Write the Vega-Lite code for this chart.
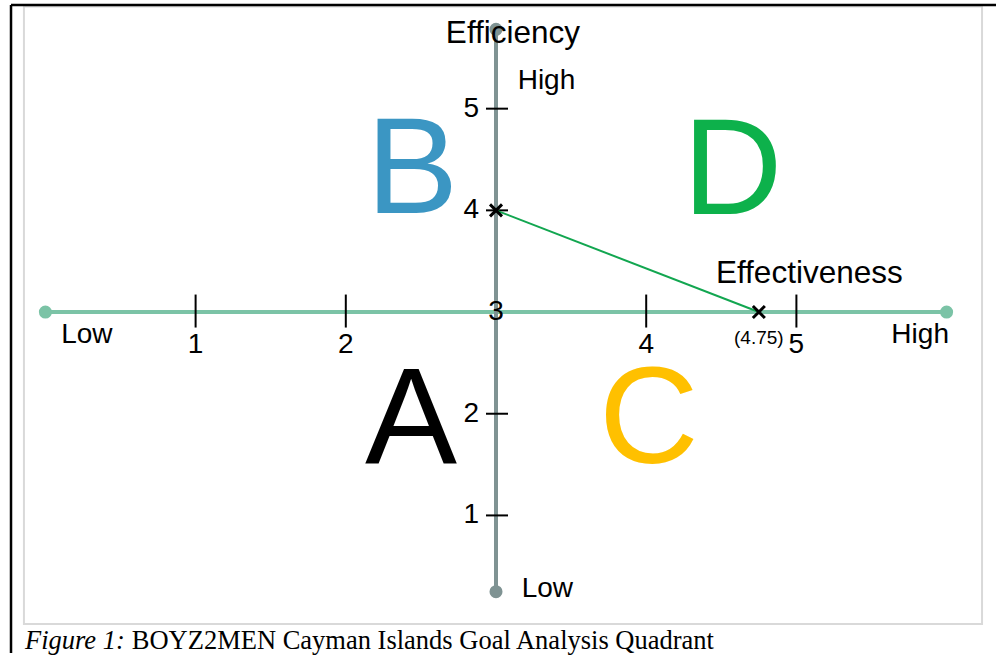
{
  "$schema": "https://vega.github.io/schema/vega-lite/v6.json",
  "width": 998,
  "height": 655,
  "autosize": {"type": "fit", "contains": "padding"},
  "padding": 0,
  "background": "white",
  "config": {"view": {"stroke": null}, "text": {"font": "Liberation Sans"}},
  "datasets": {
    "frameBox": [{"x": -0.1429, "x2": 6.236, "y": -0.0686, "y2": 6.005}],
    "frameLines": [
      {"x": -0.229, "x2": -0.229, "y": -0.3529, "y2": 6.0196},
      {"x": -0.229, "x2": 6.3289, "y": 6.0196, "y2": 6.0196}
    ],
    "axes": [
      {"axis": "Effectiveness", "x": 0, "x2": 6, "y": 3, "y2": 3},
      {"axis": "Efficiency", "x": 3, "x2": 3, "y": 0.25, "y2": 5.78}
    ],
    "axisEnds": [
      {"axis": "Effectiveness", "x": 0, "y": 3},
      {"axis": "Effectiveness", "x": 6, "y": 3},
      {"axis": "Efficiency", "x": 3, "y": 0.25},
      {"axis": "Efficiency", "x": 3, "y": 5.78}
    ],
    "xticks": [{"x": 1, "y": 3}, {"x": 2, "y": 3}, {"x": 4, "y": 3}, {"x": 5, "y": 3}],
    "yticks": [{"x": 3, "y": 1}, {"x": 3, "y": 2}, {"x": 3, "y": 4}, {"x": 3, "y": 5}],
    "center": [{"x": 3, "y": 3, "text": "3"}],
    "results": [{"x": 3, "y": 4}, {"x": 4.75, "y": 3}],
    "valueLabel": [{"x": 4.75, "y": 2.745, "text": "(4.75)"}],
    "endLabels": [
      {"x": 0.276, "y": 2.775, "text": "Low"},
      {"x": 5.824, "y": 2.775, "text": "High"},
      {"x": 3.336, "y": 5.275, "text": "High"},
      {"x": 3.342, "y": 0.275, "text": "Low"}
    ],
    "titles": [
      {"x": 3.113, "y": 5.73, "text": "Efficiency"},
      {"x": 5.086, "y": 3.373, "text": "Effectiveness"}
    ],
    "quadrants": [
      {"quadrant": "A", "x": 2.435, "y": 1.51},
      {"quadrant": "B", "x": 2.442, "y": 3.971},
      {"quadrant": "C", "x": 4.017, "y": 1.52},
      {"quadrant": "D", "x": 4.575, "y": 3.961}
    ],
    "captionLead": [{"x": -0.1362, "y": -0.3137, "text": "Figure 1:"}],
    "captionBody": [{"x": 0.575, "y": -0.3137, "text": "BOYZ2MEN Cayman Islands Goal Analysis Quadrant"}]
  },
  "encoding": {
    "x": {"field": "x", "type": "quantitative", "scale": {"domain": [-0.3023, 6.3289], "nice": false, "zero": false}, "axis": null},
    "y": {"field": "y", "type": "quantitative", "scale": {"domain": [-0.3529, 6.0686], "nice": false, "zero": false}, "axis": null}
  },
  "layer": [
    {
      "data": {"name": "frameBox"},
      "mark": {"type": "rect", "filled": false, "fill": null, "stroke": "#D9D9D9", "strokeWidth": 2},
      "encoding": {"x2": {"field": "x2"}, "y2": {"field": "y2"}}
    },
    {
      "data": {"name": "frameLines"},
      "mark": {"type": "rule", "color": "#000000", "strokeWidth": 2.5},
      "encoding": {"x2": {"field": "x2"}, "y2": {"field": "y2"}}
    },
    {
      "data": {"name": "quadrants"},
      "mark": {"type": "text", "fontSize": 138, "align": "center", "baseline": "alphabetic"},
      "encoding": {
        "text": {"field": "quadrant"},
        "color": {"field": "quadrant", "type": "nominal", "scale": {"domain": ["A", "B", "C", "D"], "range": ["#000000", "#3B96C3", "#FFC000", "#0DB14B"]}, "legend": null}
      }
    },
    {
      "data": {"name": "axes"},
      "mark": {"type": "rule", "strokeWidth": 4},
      "encoding": {
        "x2": {"field": "x2"},
        "y2": {"field": "y2"},
        "color": {"field": "axis", "type": "nominal", "scale": {"domain": ["Effectiveness", "Efficiency"], "range": ["#7BC3A6", "#7F9393"]}, "legend": null}
      }
    },
    {
      "data": {"name": "axisEnds"},
      "mark": {"type": "point", "shape": "circle", "filled": true, "size": 170, "opacity": 1},
      "encoding": {
        "color": {"field": "axis", "type": "nominal", "scale": {"domain": ["Effectiveness", "Efficiency"], "range": ["#7BC3A6", "#7F9393"]}, "legend": null}
      }
    },
    {
      "data": {"name": "xticks"},
      "mark": {"type": "tick", "orient": "vertical", "color": "#000000", "size": 33, "thickness": 2, "opacity": 1, "yOffset": -1},
      "encoding": {}
    },
    {
      "data": {"name": "xticks"},
      "mark": {"type": "text", "fontSize": 28, "align": "center", "baseline": "middle", "dy": 33},
      "encoding": {"text": {"field": "x", "type": "quantitative"}}
    },
    {
      "data": {"name": "yticks"},
      "mark": {"type": "tick", "orient": "horizontal", "color": "#000000", "size": 22, "thickness": 2, "opacity": 1, "xOffset": 1},
      "encoding": {}
    },
    {
      "data": {"name": "yticks"},
      "mark": {"type": "text", "fontSize": 28, "align": "right", "baseline": "middle", "dx": -17},
      "encoding": {"text": {"field": "y", "type": "quantitative"}}
    },
    {
      "data": {"name": "center"},
      "mark": {"type": "text", "fontSize": 28, "align": "center", "baseline": "middle"},
      "encoding": {"text": {"field": "text"}}
    },
    {
      "data": {"name": "results"},
      "mark": {"type": "line", "color": "#12A650", "strokeWidth": 2},
      "encoding": {}
    },
    {
      "data": {"name": "results"},
      "mark": {"type": "point", "shape": "M-1,-1L1,1M-1,1L1,-1", "filled": false, "stroke": "#000000", "strokeWidth": 3, "size": 144, "opacity": 1},
      "encoding": {}
    },
    {
      "data": {"name": "valueLabel"},
      "mark": {"type": "text", "fontSize": 19, "align": "center", "baseline": "middle"},
      "encoding": {"text": {"field": "text"}}
    },
    {
      "data": {"name": "endLabels"},
      "mark": {"type": "text", "fontSize": 28, "align": "center", "baseline": "middle"},
      "encoding": {"text": {"field": "text"}}
    },
    {
      "data": {"name": "titles"},
      "mark": {"type": "text", "fontSize": 31.5, "align": "center", "baseline": "middle"},
      "encoding": {"text": {"field": "text"}}
    },
    {
      "data": {"name": "captionLead"},
      "mark": {"type": "text", "font": "Liberation Serif", "fontStyle": "italic", "fontSize": 26.5, "align": "left", "baseline": "alphabetic"},
      "encoding": {"text": {"field": "text"}}
    },
    {
      "data": {"name": "captionBody"},
      "mark": {"type": "text", "font": "Liberation Serif", "fontSize": 26.5, "align": "left", "baseline": "alphabetic"},
      "encoding": {"text": {"field": "text"}}
    }
  ],
  "resolve": {"scale": {"color": "independent"}}
}
